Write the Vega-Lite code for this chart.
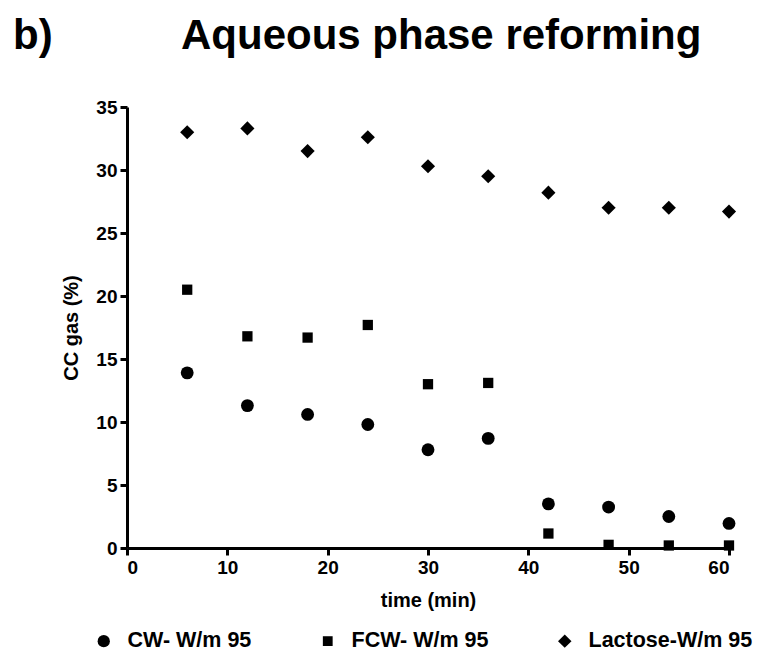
{
  "$schema": "https://vega.github.io/schema/vega-lite/v6.json",
  "autosize": {"type": "none"},
  "width": 602,
  "height": 441,
  "padding": {"left": 127, "top": 107, "right": 29, "bottom": 107},
  "background": "white",
  "title": {
    "text": "b)\u00a0\u00a0\u00a0\u00a0\u00a0\u00a0\u00a0\u00a0\u00a0\u00a0\u00a0Aqueous phase reforming",
    "anchor": "start",
    "frame": "group",
    "dx": -114,
    "offset": 40,
    "font": "Liberation Sans",
    "fontSize": 42,
    "fontWeight": "bold",
    "color": "black"
  },
  "config": {
    "view": {"stroke": null},
    "font": "Liberation Sans",
    "axis": {
      "grid": false,
      "domainColor": "black",
      "domainWidth": 3,
      "tickColor": "black",
      "tickWidth": 3,
      "tickSize": 7,
      "labelFont": "Liberation Sans",
      "labelFontSize": 19,
      "labelFontWeight": "bold",
      "labelColor": "black",
      "titleFont": "Liberation Sans",
      "titleFontSize": 20,
      "titleFontWeight": "bold",
      "titleColor": "black"
    }
  },
  "data": {
    "values": [
      {"time": 6, "cc": 13.9, "series": "CW- W/m 95"},
      {"time": 12, "cc": 11.3, "series": "CW- W/m 95"},
      {"time": 18, "cc": 10.6, "series": "CW- W/m 95"},
      {"time": 24, "cc": 9.8, "series": "CW- W/m 95"},
      {"time": 30, "cc": 7.8, "series": "CW- W/m 95"},
      {"time": 36, "cc": 8.7, "series": "CW- W/m 95"},
      {"time": 42, "cc": 3.5, "series": "CW- W/m 95"},
      {"time": 48, "cc": 3.25, "series": "CW- W/m 95"},
      {"time": 54, "cc": 2.5, "series": "CW- W/m 95"},
      {"time": 60, "cc": 1.95, "series": "CW- W/m 95"},
      {"time": 6, "cc": 20.5, "series": "FCW- W/m 95"},
      {"time": 12, "cc": 16.8, "series": "FCW- W/m 95"},
      {"time": 18, "cc": 16.7, "series": "FCW- W/m 95"},
      {"time": 24, "cc": 17.7, "series": "FCW- W/m 95"},
      {"time": 30, "cc": 13.0, "series": "FCW- W/m 95"},
      {"time": 36, "cc": 13.1, "series": "FCW- W/m 95"},
      {"time": 42, "cc": 1.15, "series": "FCW- W/m 95"},
      {"time": 48, "cc": 0.25, "series": "FCW- W/m 95"},
      {"time": 54, "cc": 0.2, "series": "FCW- W/m 95"},
      {"time": 60, "cc": 0.2, "series": "FCW- W/m 95"},
      {"time": 6, "cc": 33.0, "series": "Lactose-W/m 95"},
      {"time": 12, "cc": 33.3, "series": "Lactose-W/m 95"},
      {"time": 18, "cc": 31.5, "series": "Lactose-W/m 95"},
      {"time": 24, "cc": 32.6, "series": "Lactose-W/m 95"},
      {"time": 30, "cc": 30.3, "series": "Lactose-W/m 95"},
      {"time": 36, "cc": 29.5, "series": "Lactose-W/m 95"},
      {"time": 42, "cc": 28.2, "series": "Lactose-W/m 95"},
      {"time": 48, "cc": 27.0, "series": "Lactose-W/m 95"},
      {"time": 54, "cc": 27.0, "series": "Lactose-W/m 95"},
      {"time": 60, "cc": 26.7, "series": "Lactose-W/m 95"}
    ]
  },
  "mark": {"type": "point", "filled": true, "opacity": 1, "color": "black", "size": 165},
  "encoding": {
    "x": {
      "field": "time", "type": "quantitative",
      "scale": {"domain": [0, 60], "nice": false, "zero": true},
      "axis": {"values": [0, 10, 20, 30, 40, 50, 60], "title": "time (min)", "titlePadding": 13, "labelPadding": 3}
    },
    "y": {
      "field": "cc", "type": "quantitative",
      "scale": {"domain": [0, 35], "nice": false},
      "axis": {"values": [0, 5, 10, 15, 20, 25, 30, 35], "title": "CC gas (%)", "titlePadding": 14, "labelPadding": 3}
    },
    "shape": {
      "field": "series", "type": "nominal",
      "scale": {"domain": ["CW- W/m 95", "FCW- W/m 95", "Lactose-W/m 95"], "range": ["circle", "M-0.8,-0.8L0.8,-0.8L0.8,0.8L-0.8,0.8Z", "M-1.1,0L0,-1.1L1.1,0L0,1.1Z"]},
      "legend": {
        "title": null,
        "orient": "none",
        "legendX": -34,
        "legendY": 523,
        "direction": "horizontal",
        "labelFont": "Liberation Sans",
        "labelFontSize": 21.5,
        "labelFontWeight": "bold",
        "labelColor": "black",
        "labelLimit": 400,
        "symbolFillColor": "black",
        "symbolStrokeColor": "black",
        "symbolStrokeWidth": 0,
        "symbolSize": 150,
        "symbolOpacity": 1,
        "columnPadding": 65,
        "labelOffset": 13
      }
    }
  }
}
